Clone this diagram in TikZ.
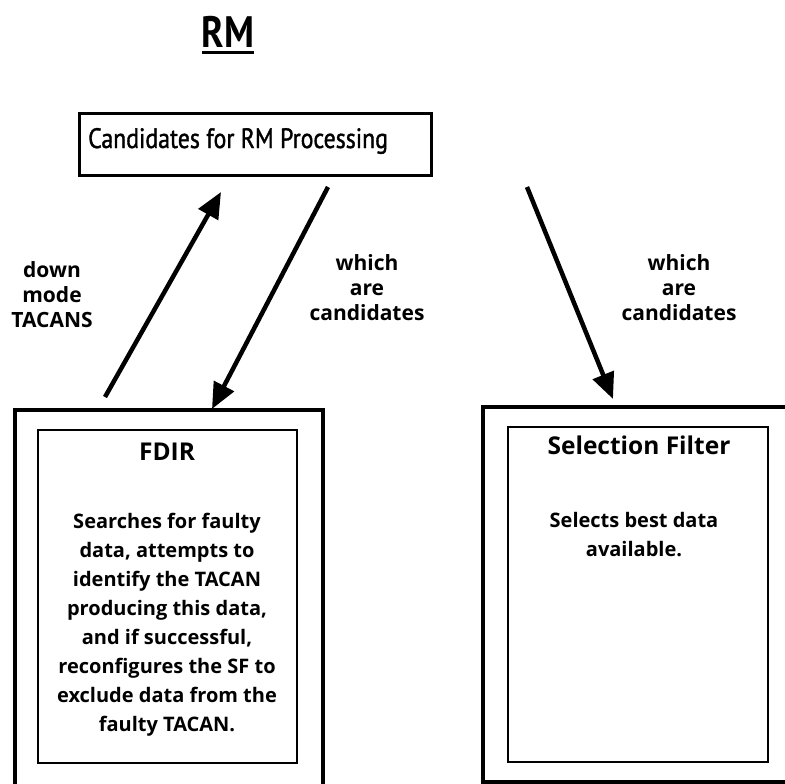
\documentclass[tikz,border=0pt]{standalone}
\usepackage{fontspec}
\setmainfont{PT Sans}[FakeStretch=0.85]
\newfontfamily\topfont{PT Sans}[FakeStretch=0.85, FakeBold=1.3]
\newfontfamily\osfont{Open Sans}
\usetikzlibrary{arrows.meta}
\tikzset{
  box/.style={draw, line width=#1, inner sep=0pt},
  arr/.style={line width=4.5pt, -{Triangle[length=26pt,width=22pt]}},
  lbl/.style={align=center, font=\osfont\bfseries\fontsize{21}{25}\selectfont, inner sep=0pt},
  body/.style={align=center, font=\osfont\bfseries\fontsize{20}{29}\selectfont, inner sep=0pt},
  head/.style={font=\osfont\bfseries\fontsize{24.5}{28}\selectfont, inner sep=0pt},
}
\begin{document}
\begin{tikzpicture}[x=1pt, y=-1pt]
\useasboundingbox (0,0) rectangle (785,784);
\clip (0,0) rectangle (785,784);
% title
\node[anchor=base, font=\bfseries\fontsize{44}{50}\selectfont, inner sep=0pt] (title) at (228,48) {RM};
\draw[line width=3pt] (title.base west |- 0,53) -- (title.base east |- 0,53);
% top box
\node[box=3pt, minimum width=352pt, minimum height=62pt] (top) at (255,144) {};
\node[anchor=base west, font=\topfont\fontsize{28}{32}\selectfont, inner sep=0pt] (toptext) at (88,148) {Candidates for RM Processing};
% FDIR boxes
\draw[line width=3.5pt] (15,810) -- (15,410) -- (323,410) -- (323,810);
\node[box=2pt, minimum width=259pt, minimum height=333pt] (fdir) at (167.5,596.5) {};
\node[head] (fdirt) at (167,452) {FDIR};
\node[body] (fdirb) at (167,625) {Searches for faulty\\data, attempts to\\identify the TACAN\\producing this data,\\and if successful,\\reconfigures the SF to\\exclude data from the\\faulty TACAN.};
% SF boxes
\draw[line width=3.5pt] (483,407) rectangle (810,782);
\node[box=2pt, minimum width=260pt, minimum height=335pt] (sf) at (638,594.5) {};
\node[head] (sft) at (639,445) {Selection Filter};
\node[body] (sfb) at (634,535) {Selects best data\\available.};
% arrows
\coordinate (a1s) at (105,397);
\coordinate (a1e) at (221,192);
\coordinate (a2s) at (328,187);
\coordinate (a2e) at (212,409);
\coordinate (a3s) at (527,187);
\coordinate (a3e) at (613,399);
\draw[arr] (a1s) -- (a1e);
\draw[arr] (a2s) -- (a2e);
\draw[arr] (a3s) -- (a3e);
% labels
\node[lbl] (l1) at (52,295) {down\\mode\\TACANS};
\node[lbl] (l2) at (367,288) {which\\are\\candidates};
\node[lbl] (l3) at (679,288) {which\\are\\candidates};
\end{tikzpicture}
\end{document}
